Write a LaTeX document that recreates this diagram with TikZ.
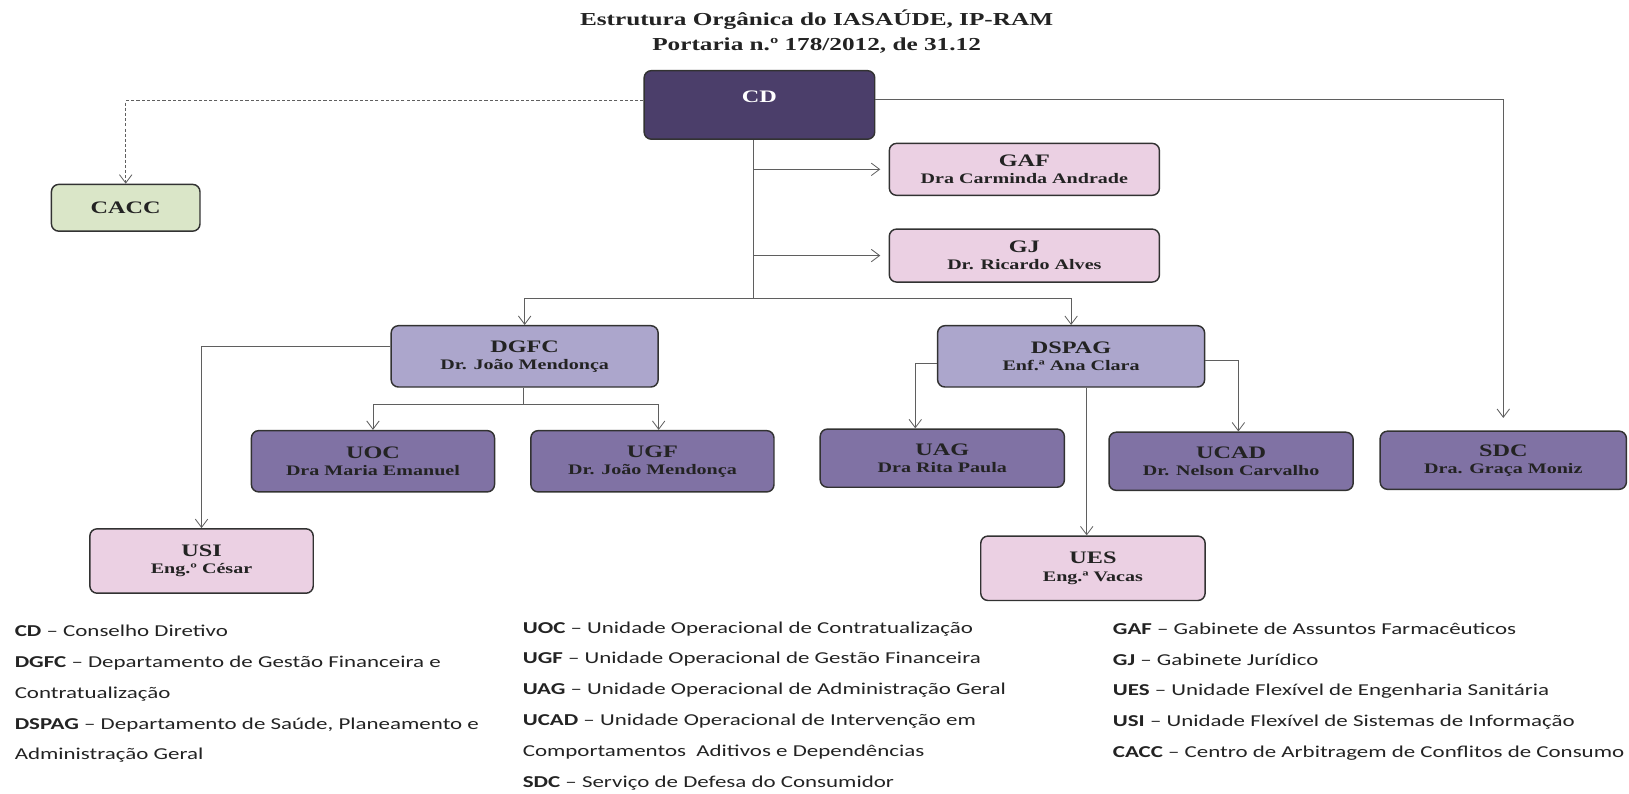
\documentclass[tikz,border=0pt]{standalone}
\usepackage{fontspec}
\setmainfont{Liberation Serif}[FakeStretch=1.38]
\newfontfamily\legfont{Carlito}[FakeStretch=1.38]
\usepackage{tikz}
\usepackage{xcolor}
\definecolor{cdpurple}{RGB}{75,62,106}
\definecolor{deptlav}{RGB}{172,166,204}
\definecolor{unitpurple}{RGB}{128,114,164}
\definecolor{gabpink}{RGB}{235,208,227}
\definecolor{caccgreen}{RGB}{218,230,200}
\definecolor{edgegray}{RGB}{50,50,50}
\definecolor{linegray}{RGB}{95,95,95}
\definecolor{ink}{RGB}{35,35,35}
\usetikzlibrary{arrows.meta}

\newcommand{\headtext}[1]{{\fontsize{16.9}{16.4}\selectfont #1}}
\newcommand{\twoline}[2]{\headtext{#1}\\{\fontsize{14}{16.4}\selectfont #2}}

\begin{document}
\begin{tikzpicture}[x=1pt,y=-1pt,
    >={Straight Barb[length=8pt,width=12pt]},
    box/.style={draw=edgegray,line width=1.4pt,rounded corners=7pt,inner sep=0pt,
        align=center,text=ink,font=\bfseries\fontsize{14}{16.4}\selectfont},
    cdbox/.style={box,fill=cdpurple,text=white,minimum width=222pt,minimum height=66pt,text depth=15pt},
    deptbox/.style={box,fill=deptlav,minimum width=257pt,minimum height=59pt},
    unitbox/.style={box,fill=unitpurple,minimum width=235pt,minimum height=56pt},
    pinkbox/.style={box,fill=gabpink},
    greenbox/.style={box,fill=caccgreen,minimum width=143pt,minimum height=45pt},
    wire/.style={draw=linegray,line width=0.8pt},
    legend/.style={inner sep=0pt,align=left,anchor=north west,text=ink,
        font=\legfont\fontsize{16}{29.8}\selectfont}]
    \useasboundingbox (0,0) rectangle (1568,764);

    % title
    \node[align=center,text=ink,font=\bfseries\fontsize{17.6}{24}\selectfont] (title) at (786,30)
        {Estrutura Orgânica do IASAÚDE, IP-RAM\\Portaria n.º 178/2012, de 31.12};

    % boxes
    \node[cdbox] (CD) at (731,101) {\headtext{CD}};
    \node[greenbox] (CACC) at (121,200) {\headtext{CACC}};
    \node[pinkbox,minimum width=260pt,minimum height=50pt] (GAF) at (986,163) {\twoline{GAF}{Dra Carminda Andrade}};
    \node[pinkbox,minimum width=260pt,minimum height=51pt] (GJ) at (986,246) {\twoline{GJ}{Dr. Ricardo Alves}};
    \node[deptbox] (DGFC) at (505,343) {\twoline{DGFC}{Dr. João Mendonça}};
    \node[deptbox] (DSPAG) at (1031,343) {\twoline{DSPAG}{Enf.ª Ana Clara}};
    \node[unitbox,minimum width=234pt,minimum height=59pt] (UOC) at (359,444) {\twoline{UOC}{Dra Maria Emanuel}};
    \node[unitbox,minimum width=234pt,minimum height=59pt] (UGF) at (628,444) {\twoline{UGF}{Dr. João Mendonça}};
    \node[unitbox] (UAG) at (907,441) {\twoline{UAG}{Dra Rita Paula}};
    \node[unitbox] (UCAD) at (1185,444) {\twoline{UCAD}{Dr. Nelson Carvalho}};
    \node[unitbox,minimum width=237pt] (SDC) at (1447,443) {\twoline{SDC}{Dra. Graça Moniz}};
    \node[pinkbox,minimum width=215pt,minimum height=62pt] (USI) at (194,540) {\twoline{USI}{Eng.º César}};
    \node[pinkbox,minimum width=216pt,minimum height=62pt] (UES) at (1052,547) {\twoline{UES}{Eng.ª Vacas}};

    % connectors
    \coordinate (cdbus) at (725,287);
    \coordinate (dgbus) at (504,389);
    \draw[wire,dash pattern=on 3pt off 2pt,->] ([yshift=4pt]CD.west) -| (CACC.north);
    \draw[wire,->,shorten >=12pt] ([yshift=5pt]CD.east) -| (SDC.north);
    \draw[wire] (CD.south -| cdbus) -- (cdbus);
    \draw[wire,->] (cdbus) -| (DGFC.north);
    \draw[wire,->] (cdbus) -| (DSPAG.north);
    \draw[wire,->,shorten >=8pt] (cdbus |- GAF.west) -- (GAF.west);
    \draw[wire,->,shorten >=8pt] (cdbus |- GJ.west) -- (GJ.west);
    \draw[wire,->] ([yshift=10pt]DGFC.west) -| (USI.north);
    \draw[wire] (DGFC.south -| dgbus) -- (dgbus);
    \draw[wire,->] (dgbus) -| (UOC.north);
    \draw[wire,->] (dgbus) -| ([xshift=6pt]UGF.north);
    \draw[wire,->] ([yshift=-7pt]DSPAG.west) -| ([xshift=-26pt]UAG.north);
    \draw[wire,->] ([yshift=-4pt]DSPAG.east) -| ([xshift=7pt]UCAD.north);
    \draw[wire,->] ([xshift=-6pt]UES.north |- DSPAG.south) -- ([xshift=-6pt]UES.north);

    % legend
    \node[legend] (legA) at (14,601) {\textbf{CD} – Conselho Diretivo\\
        \textbf{DGFC} – Departamento de Gestão Financeira e\\
        Contratualização\\
        \textbf{DSPAG} – Departamento de Saúde, Planeamento e\\
        Administração Geral};
    \node[legend] (legB) at (503,598) {\textbf{UOC} – Unidade Operacional de Contratualização\\
        \textbf{UGF} – Unidade Operacional de Gestão Financeira\\
        \textbf{UAG} – Unidade Operacional de Administração Geral\\
        \textbf{UCAD} – Unidade Operacional de Intervenção em\\
        Comportamentos\ \ Aditivos e Dependências\\
        \textbf{SDC} – Serviço de Defesa do Consumidor};
    \node[legend] (legC) at (1071,599) {\textbf{GAF} – Gabinete de Assuntos Farmacêuticos\\
        \textbf{GJ} – Gabinete Jurídico\\
        \textbf{UES} – Unidade Flexível de Engenharia Sanitária\\
        \textbf{USI} – Unidade Flexível de Sistemas de Informação\\
        \textbf{CACC} – Centro de Arbitragem de Conflitos de Consumo};
\end{tikzpicture}
\end{document}
